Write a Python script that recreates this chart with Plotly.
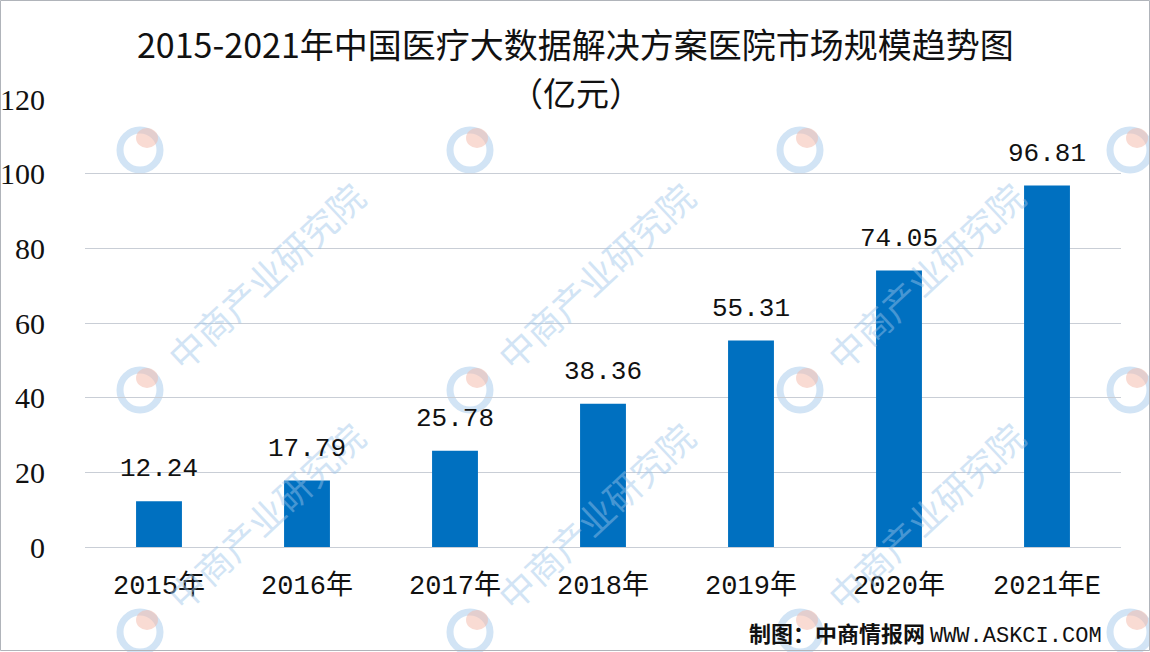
import plotly.graph_objects as go

categories = ["2015年", "2016年", "2017年", "2018年", "2019年", "2020年", "2021年E"]
values = [12.24, 17.79, 25.78, 38.36, 55.31, 74.05, 96.81]
y_ticks = [0, 20, 40, 60, 80, 100, 120]
title_line1 = "2015-2021年中国医疗大数据解决方案医院市场规模趋势图"
title_line2 = "（亿元）"
source_cn = "制图：中商情报网"
source_en = "WWW.ASKCI.COM"
watermark = "中商产业研究院"

BAR = "#0070C0"
MONO = "Liberation Mono, Noto Sans CJK SC, monospace"
SERIF = "Liberation Serif, Noto Sans CJK SC, serif"
CJK = "Noto Sans CJK SC, sans-serif"

W, H = 1150, 652
ML, MR, MT, MB = 85, 29, 99, 105
plot_h = H - MT - MB
plot_w = W - ML - MR


def px(pix_x):
    return (pix_x - ML) / plot_w


def py(pix_y):
    return (H - MB - pix_y) / plot_h


fig = go.Figure()

# watermark logos (approximation) at every tile
logo_centers = [(140, 150), (470, 150), (800, 150), (1130, 150),
                (140, 390), (470, 390), (800, 390), (1130, 390),
                (140, 632), (470, 632), (800, 632), (1130, 632)]
for (lx, ly) in logo_centers:
    fig.add_shape(type="circle", xref="paper", yref="paper",
                  x0=px(lx - 20), x1=px(lx + 20), y0=py(ly + 20), y1=py(ly - 20),
                  line=dict(color="#9cc5ea", width=7), opacity=0.45, layer="below")
    fig.add_shape(type="circle", xref="paper", yref="paper",
                  x0=px(lx - 4), x1=px(lx + 18), y0=py(ly - 2), y1=py(ly - 22),
                  line=dict(width=0), fillcolor="#f3b8a8", opacity=0.5, layer="below")

# watermark texts (faint, rotated), only those that fit inside the picture
wm_centers = [(265, 275), (595, 275), (925, 275),
              (265, 515), (595, 515), (925, 515)]
for (cx, cy) in wm_centers:
    fig.add_annotation(xref="paper", yref="paper", x=px(cx), y=py(cy),
                       xanchor="center", yanchor="middle", text=watermark,
                       showarrow=False, textangle=-43, opacity=0.45,
                       font=dict(family=CJK, size=36, color="#9cc5ea"))

fig.add_trace(go.Bar(x=categories, y=values, marker=dict(color=BAR, line=dict(width=0)),
                     hoverinfo="skip"))

# data labels
for c, v in zip(categories, values):
    fig.add_annotation(x=c, y=v, text=f"{v:.2f}", showarrow=False, yanchor="bottom",
                       yshift=15, font=dict(family=MONO, size=26, color="#111111"))

# titles
fig.add_annotation(xref="paper", yref="paper", x=px(575), y=py(44), xanchor="center",
                   yanchor="middle", text=title_line1, showarrow=False,
                   font=dict(family=CJK, size=34, color="#111111"))
fig.add_annotation(xref="paper", yref="paper", x=px(576), y=py(92), xanchor="center",
                   yanchor="middle", text=title_line2, showarrow=False,
                   font=dict(family=CJK, size=33, color="#111111"))

# source
fig.add_annotation(xref="paper", yref="paper", x=px(1104), y=py(632), xanchor="right",
                   yanchor="middle", showarrow=False,
                   text=f"<b>{source_cn}</b> <span style='font-family:Liberation Mono'>{source_en}</span>",
                   font=dict(family=CJK, size=22, color="#111111"))

fig.update_layout(
    width=W, height=H,
    margin=dict(l=ML, r=MR, t=MT, b=MB),
    paper_bgcolor="#ffffff", plot_bgcolor="rgba(0,0,0,0)",
    showlegend=False, bargap=0.69,
    xaxis=dict(showgrid=False, showline=False, ticks="", ticklabelstandoff=19,
               automargin=False,
               tickfont=dict(family=MONO, size=27, color="#111111")),
    yaxis=dict(range=[0, 120], tickvals=y_ticks, showgrid=True, gridcolor="#c9ced6",
               gridwidth=1, zeroline=True, zerolinecolor="#c9ced6", zerolinewidth=1,
               showline=False, ticks="", ticklabelstandoff=39, automargin=False,
               tickfont=dict(family=SERIF, size=30, color="#111111")),
)

# border
fig.add_shape(type="rect", xref="paper", yref="paper", x0=px(0.5), x1=px(1149.5),
              y0=py(650.5), y1=py(0.5), line=dict(color="#b0b4ba", width=1), layer="below")

fig.write_html("out.html")
